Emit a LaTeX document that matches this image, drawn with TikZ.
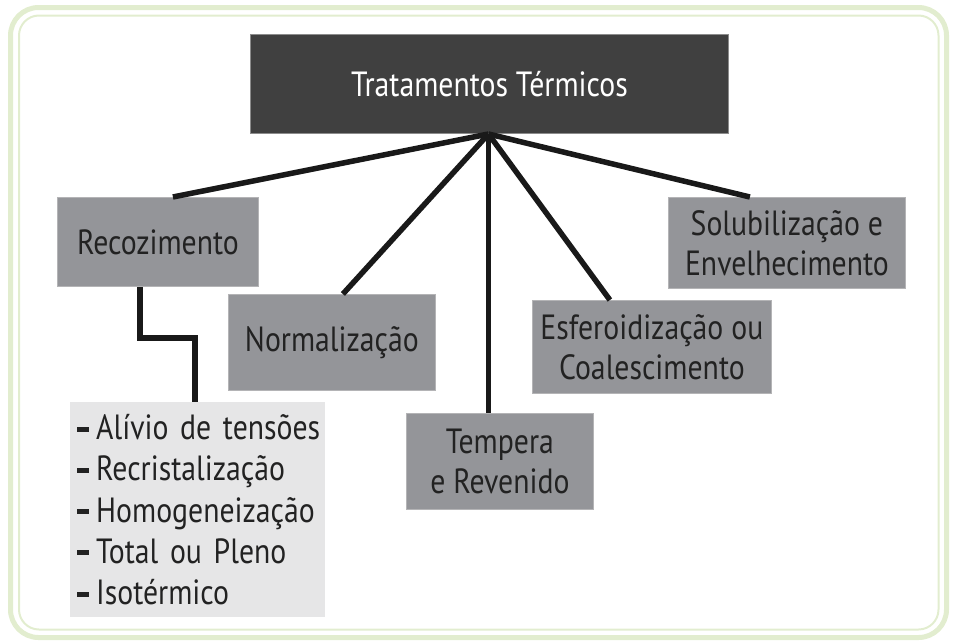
\documentclass[tikz,border=0pt]{standalone}
\usepackage{fontspec}
\setmainfont{PT Sans}[FakeStretch=0.85]
\usetikzlibrary{calc}
\definecolor{frameg}{HTML}{E2EDCF}
\definecolor{boxg}{HTML}{949599}
\definecolor{boxedge}{HTML}{B4B4B6}
\definecolor{topbox}{HTML}{404040}
\definecolor{topedge}{HTML}{8C8C8C}
\definecolor{listg}{HTML}{E6E6E7}
\definecolor{txt}{HTML}{222222}
\tikzset{
  catbox/.style={draw=boxedge, line width=0.8pt, fill=boxg, text=txt, align=center,
    anchor=north west, inner sep=0pt,
    font=\fontsize{35}{40}\selectfont},
  titlebox/.style={draw=topedge, line width=1pt, fill=topbox, text=white, align=center,
    anchor=north west, inner sep=0pt, font=\fontsize{35}{40}\selectfont},
  listbox/.style={fill=listg, text=txt, align=left, anchor=north west, inner xsep=7pt,
    inner ysep=0pt, text width=241pt, font=\fontsize{35}{41.25}\selectfont},
  link/.style={line width=5.5pt, draw=black!90},
  frameline/.style={draw=frameg}
}
\newcommand{\lstitem}[1]{\mbox{\rule[8pt]{12pt}{5pt}\hspace{7pt}#1}}
\begin{document}
\begin{tikzpicture}[x=1pt, y=-1pt]
\useasboundingbox (0,0) rectangle (953,643);
% frame
\draw[frameline, line width=5pt, rounded corners=28pt] (10.5,7.5) rectangle (946.5,637.5);
\draw[frameline, line width=2pt, rounded corners=20pt] (19,15.5) rectangle (938.5,629.5);

% nodes
\node[titlebox, minimum width=478pt, minimum height=99pt] (top) at (250,34) {Tratamentos Térmicos};
\node[catbox, minimum width=201pt, minimum height=89pt] (rec) at (57,197) {Recozimento};
\node[catbox, minimum width=207pt, minimum height=96pt] (nor) at (228,294) {Normalização};
\node[catbox, minimum width=187pt, minimum height=96pt] (tem) at (406,413) {Tempera\\e Revenido};
\node[catbox, minimum width=239pt, minimum height=93pt] (esf) at (532,300) {Esferoidização ou\\Coalescimento};
\node[catbox, minimum width=237pt, minimum height=91pt] (sol) at (668,197) {Solubilização e\\Envelhecimento};
\node[listbox, minimum height=215pt] (lst) at (70,402) {\lstitem{Alívio de tensões}\\\lstitem{Recristalização}\\\lstitem{Homogeneização}\\\lstitem{Total ou Pleno}\\\lstitem{Isotérmico}};

% connectors
\coordinate (hub) at ($(top.south)+(-1,0)$);
\draw[link] (hub) -- ($(rec.north)+(15,0)$);
\draw[link] (hub) -- ($(nor.north)+(11,0)$);
\draw[link] (hub) -- (hub |- tem.north);
\draw[link] (hub) -- ($(esf.north)+(-42,0)$);
\draw[link] (hub) -- ($(sol.north)+(-37,0)$);
\coordinate (e1) at (140,338);
\coordinate (e2) at (195,338);
\draw[link] (rec.south -| e1) -- (e1) -- (e2) -- (e2 |- lst.north);
\end{tikzpicture}
\end{document}
